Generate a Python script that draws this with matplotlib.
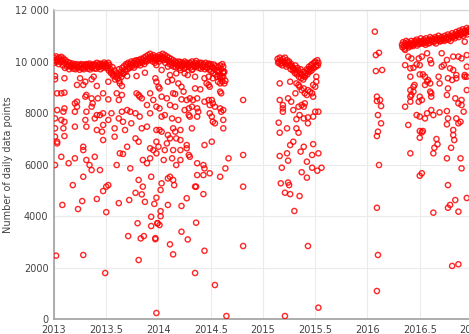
import matplotlib
matplotlib.use("Agg")
import matplotlib.pyplot as plt

# ---------------- data (year, daily data points) ----------------
band_2013_y = [10150, 10050, 10200, 10100, 10000, 10150, 10080, 10180, 10050, 10120,
               9950, 10050, 9900, 9980, 9850, 9950, 9880, 9820, 9920, 9850,
               9800, 9900, 9850, 9780, 9880, 9820, 9900, 9850, 9760, 9880,
               9830, 9900, 9800, 9870, 9920, 9850, 9780, 9880, 9830, 9900,
               9850, 9950, 9800, 9880, 9920, 9830, 9900, 9850, 9960, 9880,
               9900, 9820, 9950, 9870, 9700, 9600, 9780, 9500, 9650, 9400,
               9550, 9350, 9700, 9480, 9600, 9750, 9520, 9820, 9680, 9900,
               9850, 9950, 9800, 9900, 10000, 9880, 9950, 10020, 9900, 10050,
               9980, 10050, 9950, 10100, 10000, 10080, 10150, 10020, 10200, 10100,
               10250, 10150, 10300, 10200, 10100, 10250, 10150, 10050, 10200, 10100,
               10150, 10250, 10100, 10200, 10300, 10150, 10250, 10100, 10200, 10050,
               10150, 10000, 10100, 9950, 10050, 9900, 10000, 9950, 9880, 10000,
               9900, 9980, 9850, 9950, 9900, 10000, 9870, 9950, 9900, 9850,
               9950, 9880, 10000, 9900, 9850, 9950, 10020, 9900, 9850, 9950,
               9880, 9950, 9800, 9900, 9850, 9950, 9780, 9880, 9920, 9850,
               9900, 9800, 9750, 9880, 9700, 9820, 9650, 9780, 9600, 9850,
               9700, 9900, 9550]
band_2013_x = [2013.00, 2013.01, 2013.02, 2013.03, 2013.04, 2013.05, 2013.06, 2013.07, 2013.08, 2013.09,
               2013.10, 2013.11, 2013.12, 2013.13, 2013.14, 2013.15, 2013.16, 2013.17, 2013.18, 2013.19,
               2013.20, 2013.21, 2013.22, 2013.23, 2013.24, 2013.25, 2013.26, 2013.27, 2013.28, 2013.29,
               2013.30, 2013.31, 2013.32, 2013.33, 2013.34, 2013.35, 2013.36, 2013.37, 2013.38, 2013.39,
               2013.40, 2013.41, 2013.42, 2013.43, 2013.44, 2013.45, 2013.46, 2013.47, 2013.48, 2013.49,
               2013.50, 2013.51, 2013.52, 2013.53, 2013.54, 2013.55, 2013.56, 2013.57, 2013.58, 2013.59,
               2013.60, 2013.61, 2013.62, 2013.63, 2013.64, 2013.65, 2013.66, 2013.67, 2013.68, 2013.69,
               2013.70, 2013.71, 2013.72, 2013.73, 2013.74, 2013.75, 2013.76, 2013.77, 2013.78, 2013.79,
               2013.80, 2013.81, 2013.82, 2013.83, 2013.84, 2013.85, 2013.86, 2013.87, 2013.88, 2013.89,
               2013.90, 2013.91, 2013.92, 2013.93, 2013.94, 2013.95, 2013.96, 2013.97, 2013.98, 2013.99,
               2014.00, 2014.01, 2014.02, 2014.03, 2014.04, 2014.05, 2014.06, 2014.07, 2014.08, 2014.09,
               2014.10, 2014.11, 2014.12, 2014.13, 2014.14, 2014.15, 2014.16, 2014.17, 2014.18, 2014.19,
               2014.20, 2014.21, 2014.22, 2014.23, 2014.24, 2014.25, 2014.26, 2014.27, 2014.28, 2014.29,
               2014.30, 2014.31, 2014.32, 2014.33, 2014.34, 2014.35, 2014.36, 2014.37, 2014.38, 2014.39,
               2014.40, 2014.41, 2014.42, 2014.43, 2014.44, 2014.45, 2014.46, 2014.47, 2014.48, 2014.49,
               2014.50, 2014.51, 2014.52, 2014.53, 2014.54, 2014.55, 2014.56, 2014.57, 2014.58, 2014.59,
               2014.60, 2014.61, 2014.62]

# second (lower) row of the thick upper band, 2013-2014
band_2013b_x = [2013.005, 2013.025, 2013.045, 2013.065, 2013.085, 2013.105, 2013.125, 2013.145, 2013.165, 2013.185,
                2013.205, 2013.225, 2013.245, 2013.265, 2013.285, 2013.305, 2013.325, 2013.345, 2013.365, 2013.385,
                2013.405, 2013.425, 2013.445, 2013.465, 2013.485, 2013.505, 2013.525, 2013.545, 2013.565, 2013.585,
                2013.605, 2013.625, 2013.645, 2013.665, 2013.685, 2013.705, 2013.725, 2013.745, 2013.765, 2013.785,
                2013.805, 2013.825, 2013.845, 2013.865, 2013.885, 2013.905, 2013.925, 2013.945, 2013.965, 2013.985,
                2014.005, 2014.025, 2014.045, 2014.065, 2014.085, 2014.105, 2014.125, 2014.145, 2014.165, 2014.185,
                2014.205, 2014.225, 2014.245, 2014.265, 2014.285, 2014.305, 2014.325, 2014.345, 2014.365, 2014.385,
                2014.405, 2014.425, 2014.445, 2014.465, 2014.485, 2014.505, 2014.525, 2014.545, 2014.565, 2014.585,
                2014.605]
band_2013b_y = [9950, 10000, 9900, 9980, 9850, 9750, 9800, 9700, 9780, 9720,
                9700, 9760, 9680, 9740, 9700, 9780, 9720, 9690, 9760, 9730,
                9720, 9780, 9700, 9760, 9800, 9740, 9650, 9550, 9450, 9300,
                9450, 9250, 9400, 9550, 9600, 9700, 9750, 9800, 9760, 9850,
                9900, 9850, 9950, 9900, 10000, 10050, 10100, 10000, 9950, 10050,
                10000, 10100, 10050, 9950, 10050, 9900, 9850, 9800, 9780, 9820,
                9750, 9800, 9720, 9780, 9800, 9760, 9700, 9780, 9820, 9750,
                9720, 9780, 9700, 9750, 9680, 9620, 9550, 9500, 9600, 9450,
                9400]

band_2015_x = [2015.14, 2015.15, 2015.16, 2015.17, 2015.18, 2015.19, 2015.20, 2015.21, 2015.22, 2015.23,
               2015.24, 2015.25, 2015.26, 2015.27, 2015.28, 2015.29, 2015.30, 2015.31, 2015.32, 2015.33,
               2015.34, 2015.35, 2015.36, 2015.37, 2015.38, 2015.39, 2015.40, 2015.41, 2015.42, 2015.43,
               2015.44, 2015.45, 2015.46, 2015.47, 2015.48, 2015.49, 2015.50, 2015.51, 2015.52, 2015.53]
band_2015_y = [10100, 10000, 10150, 10050, 9950, 10100, 10000, 10150, 9900, 10050,
               9950, 10000, 9850, 9900, 9800, 9750, 9700, 9850, 9600, 9750,
               9650, 9550, 9700, 9500, 9450, 9600, 9400, 9550, 9700, 9650,
               9800, 9700, 9850, 9900, 9750, 9950, 10000, 9850, 10050, 9950]
band_2015b_x = [2015.145, 2015.165, 2015.185, 2015.205, 2015.225, 2015.245, 2015.265, 2015.285, 2015.305, 2015.325,
                2015.345, 2015.365, 2015.385, 2015.405, 2015.425, 2015.445, 2015.465, 2015.485, 2015.505, 2015.525]
band_2015b_y = [9950, 9900, 9850, 9950, 9800, 9850, 9700, 9650, 9550, 9500,
                9400, 9350, 9300, 9450, 9500, 9600, 9650, 9750, 9800, 9850]

band_2016_x = [2016.33, 2016.34, 2016.35, 2016.36, 2016.37, 2016.38, 2016.39, 2016.40, 2016.41, 2016.42,
               2016.43, 2016.44, 2016.45, 2016.46, 2016.47, 2016.48, 2016.49, 2016.50, 2016.51, 2016.52,
               2016.53, 2016.54, 2016.55, 2016.56, 2016.57, 2016.58, 2016.59, 2016.60, 2016.61, 2016.62,
               2016.63, 2016.64, 2016.65, 2016.66, 2016.67, 2016.68, 2016.69, 2016.70, 2016.71, 2016.72,
               2016.73, 2016.74, 2016.75, 2016.76, 2016.77, 2016.78, 2016.79, 2016.80, 2016.81, 2016.82,
               2016.83, 2016.84, 2016.85, 2016.86, 2016.87, 2016.88, 2016.89, 2016.90, 2016.91, 2016.92,
               2016.93, 2016.94, 2016.95, 2016.96, 2016.97, 2016.98, 2016.99, 2017.00]
band_2016_y = [10650, 10750, 10600, 10700, 10800, 10650, 10750, 10700, 10600, 10800,
               10700, 10650, 10800, 10750, 10850, 10700, 10800, 10750, 10900, 10700,
               10800, 10850, 10750, 10900, 10800, 10700, 10850, 10950, 10800, 10900,
               10850, 10800, 10950, 10900, 10850, 11000, 10900, 10800, 10950, 10850,
               10900, 11000, 10850, 10950, 11050, 10900, 11000, 10950, 11100, 10950,
               11050, 11000, 11150, 11050, 11100, 11200, 11050, 11150, 11250, 11100,
               11200, 11150, 11300, 11200, 11250, 11150, 11300, 11200]
band_2016b_x = [2016.335, 2016.355, 2016.375, 2016.395, 2016.415, 2016.435, 2016.455, 2016.475, 2016.495, 2016.515,
                2016.535, 2016.555, 2016.575, 2016.595, 2016.615, 2016.635, 2016.655, 2016.675, 2016.695, 2016.715,
                2016.735, 2016.755, 2016.775, 2016.795, 2016.815, 2016.835, 2016.855, 2016.875, 2016.895, 2016.915,
                2016.935, 2016.955, 2016.975, 2016.995]
band_2016b_y = [10550, 10500, 10600, 10550, 10650, 10600, 10700, 10620, 10680, 10750,
                10700, 10650, 10780, 10720, 10800, 10750, 10700, 10820, 10780, 10850,
                10800, 10900, 10850, 10800, 10950, 10900, 11000, 10950, 11050, 11000,
                11100, 11050, 11150, 11100]

scatter_2013 = [
    (2013.01, 9435), (2013.01, 9310), (2013.10, 9350), (2013.25, 9350), (2013.30, 9215),
    (2013.38, 9410), (2013.36, 9310), (2013.22, 9090), (2013.28, 9090), (2013.41, 9050),
    (2013.52, 9215), (2013.63, 9150), (2013.65, 9050), (2013.70, 9435), (2013.79, 9435),
    (2013.87, 9565), (2013.97, 9350), (2013.03, 8765), (2013.07, 8765), (2013.10, 8790),
    (2013.20, 8375), (2013.22, 8440), (2013.30, 8635), (2013.31, 8700), (2013.36, 8570),
    (2013.37, 8375), (2013.42, 8570), (2013.47, 8765), (2013.52, 8530), (2013.60, 8765),
    (2013.62, 8505), (2013.65, 8700), (2013.79, 8765), (2013.81, 8700), (2013.82, 8635),
    (2013.84, 8570), (2013.92, 8765), (2013.95, 8505), (2013.89, 8310), (2013.03, 8115),
    (2013.09, 8050), (2013.10, 8180), (2013.20, 8050), (2013.22, 8245), (2013.31, 8050),
    (2013.36, 8245), (2013.41, 7920), (2013.44, 7920), (2013.47, 7990), (2013.55, 7990),
    (2013.65, 8050), (2013.70, 8115), (2013.73, 8050), (2013.78, 7990), (2013.82, 7860),
    (2013.92, 7990), (2013.01, 7790), (2013.07, 7730), (2013.10, 7660), (2013.01, 7405),
    (2013.09, 7405), (2013.01, 7080), (2013.03, 6885), (2013.03, 6820), (2013.10, 7105),
    (2013.20, 7470), (2013.30, 7730), (2013.31, 7470), (2013.39, 7790), (2013.41, 7340),
    (2013.47, 7535), (2013.46, 7275), (2013.52, 7730), (2013.58, 7405), (2013.62, 7790),
    (2013.66, 7660), (2013.68, 7340), (2013.74, 7600), (2013.78, 7015), (2013.81, 6885),
    (2013.84, 7405), (2013.89, 7470), (2013.92, 6630), (2013.95, 6560), (2013.98, 6435),
    (2013.28, 6690), (2013.28, 6560), (2013.39, 6300), (2013.47, 6950), (2013.58, 7080),
    (2013.70, 6690), (2013.63, 6435), (2013.66, 6410), (2013.07, 6300), (2013.20, 6240),
    (2013.14, 6050), (2013.31, 6175), (2013.34, 5980), (2013.36, 5785), (2013.44, 5785),
    (2013.60, 5980), (2013.73, 5850), (2013.85, 6175), (2013.89, 6050), (2013.92, 6240),
    (2013.93, 5525), (2013.28, 5525), (2013.52, 5200), (2013.81, 5400), (2013.18, 5200),
    (2013.01, 5980), (2013.08, 4430), (2013.23, 4270), (2013.27, 4580), (2013.41, 4660),
    (2013.47, 4970), (2013.50, 5140), (2013.50, 4150), (2013.62, 4500), (2013.72, 4620),
    (2013.78, 4900), (2013.84, 4840), (2013.85, 5140), (2013.87, 4550), (2013.96, 4470),
    (2013.98, 4710), (2013.93, 3970), (2013.80, 3720), (2013.71, 3220), (2013.83, 3130),
    (2013.86, 3220), (2013.93, 3610), (2013.97, 3100), (2013.99, 3720), (2013.02, 2460),
    (2013.28, 2485), (2013.49, 1786), (2013.81, 2290), (2013.98, 233),
    (2014.62, 9800), (2014.63, 9600), (2014.62, 9400), (2014.64, 9250), (2014.63, 9150),
]

scatter_2014 = [
    (2013.98, 9860), (2014.03, 9670), (2014.09, 9800), (2014.11, 9475), (2014.17, 9540),
    (2014.21, 9670), (2014.25, 9540), (2014.28, 9475), (2014.32, 9670), (2014.35, 9410),
    (2014.44, 9350), (2014.48, 9410), (2014.52, 9350), (2014.56, 9410), (2014.57, 9215),
    (2014.59, 9350), (2014.62, 9610), (2014.61, 9220), (2014.59, 9150), (2013.98, 9215),
    (2014.00, 9020), (2014.01, 8955), (2014.09, 9215), (2014.13, 9280), (2014.19, 9150),
    (2014.22, 9020), (2014.24, 8830), (2014.35, 8955), (2014.40, 8920), (2014.46, 9150),
    (2014.48, 9090), (2014.49, 9020), (2014.59, 8830), (2014.60, 8765), (2014.03, 8635),
    (2014.08, 8570), (2014.14, 8765), (2014.16, 8740), (2014.22, 8530), (2014.27, 8505),
    (2014.30, 8570), (2014.33, 8505), (2014.37, 8570), (2014.44, 8440), (2014.48, 8505),
    (2014.51, 8505), (2013.98, 8245), (2014.01, 8180), (2014.11, 8310), (2014.16, 8245),
    (2014.25, 8115), (2014.29, 8180), (2014.32, 8245), (2014.37, 8180), (2014.38, 8050),
    (2014.49, 8310), (2014.52, 8375), (2014.54, 8245), (2014.59, 8180), (2014.60, 8050),
    (2014.62, 8115), (2014.03, 7860), (2014.06, 7920), (2014.13, 7790), (2014.19, 7730),
    (2014.29, 7920), (2014.30, 7860), (2014.37, 7860), (2014.49, 7990), (2014.51, 7860),
    (2014.52, 7660), (2014.54, 7600), (2014.62, 7730), (2014.62, 7405), (2013.98, 7340),
    (2014.01, 7340), (2014.03, 7275), (2014.14, 7405), (2014.16, 7275), (2014.21, 7340),
    (2014.32, 7405), (2014.09, 7145), (2014.11, 7015), (2014.17, 7015), (2014.21, 6950),
    (2013.98, 6885), (2014.00, 6690), (2014.08, 6820), (2014.27, 6755), (2014.27, 6630),
    (2014.44, 6755), (2014.51, 6885), (2014.06, 6560), (2014.14, 6560), (2014.21, 6560),
    (2014.29, 6370), (2014.30, 6300), (2014.05, 6175), (2014.13, 6240), (2014.21, 6175),
    (2014.67, 6240), (2014.17, 5980), (2014.37, 6050), (2014.43, 5980), (2014.44, 5850),
    (2014.64, 5850), (2014.11, 5525), (2014.09, 5460), (2014.14, 5400), (2014.37, 5590),
    (2014.43, 5590), (2014.49, 5660), (2014.59, 5525), (2014.03, 5270), (2014.35, 5140),
    (2014.02, 5010), (2014.15, 5200), (2014.36, 5140), (2014.09, 4430), (2014.22, 4390),
    (2014.27, 4690), (2014.43, 4850), (2014.02, 4190), (2014.02, 3990), (2013.99, 3720),
    (2014.01, 3650), (2014.36, 3740), (2014.22, 3390), (2014.28, 3090), (2014.11, 2900),
    (2014.14, 2510), (2014.44, 2650), (2013.97, 3140), (2014.35, 1786), (2014.54, 1320),
    (2014.65, 116),
    (2014.81, 8505), (2014.81, 6370), (2014.81, 5140), (2014.81, 2835),
]

scatter_2015 = [
    (2015.16, 9150), (2015.26, 9215), (2015.32, 9150), (2015.34, 9090), (2015.35, 9020),
    (2015.37, 8890), (2015.39, 8955), (2015.43, 8890), (2015.45, 8830), (2015.47, 8765),
    (2015.51, 9410), (2015.51, 9215), (2015.50, 9020), (2015.48, 9090), (2015.31, 8765),
    (2015.40, 8765), (2015.42, 8700), (2015.48, 8635), (2015.16, 8505), (2015.24, 8570),
    (2015.27, 8440), (2015.19, 8310), (2015.19, 8180), (2015.34, 8245), (2015.37, 8310),
    (2015.40, 8375), (2015.39, 8245), (2015.29, 8115), (2015.19, 8050), (2015.50, 8050),
    (2015.53, 8050), (2015.48, 7860), (2015.43, 7830), (2015.35, 7920), (2015.32, 7760),
    (2015.39, 7790), (2015.15, 7625), (2015.43, 7600), (2015.23, 7405), (2015.16, 7235),
    (2015.32, 7405), (2015.34, 7235), (2015.29, 6885), (2015.26, 6755), (2015.39, 6690),
    (2015.48, 6790), (2015.36, 6500), (2015.23, 6435), (2015.16, 6330), (2015.53, 6435),
    (2015.47, 6370), (2015.24, 6150), (2015.42, 6110), (2015.18, 5875), (2015.37, 5700),
    (2015.47, 5875), (2015.52, 5760), (2015.56, 5875), (2015.42, 5490), (2015.17, 5270),
    (2015.24, 5300), (2015.25, 5200), (2015.21, 4905), (2015.26, 4850), (2015.35, 4775),
    (2015.30, 4195), (2015.43, 2835), (2015.53, 440), (2015.21, 116),
]

scatter_2016 = [
    (2016.07, 11160), (2016.08, 10250), (2016.11, 10340), (2016.08, 9630), (2016.14, 9670),
    (2016.09, 8635), (2016.12, 8505), (2016.09, 8465), (2016.13, 8270), (2016.10, 7920),
    (2016.13, 7600), (2016.10, 7275), (2016.09, 7105), (2016.11, 5980), (2016.09, 4320),
    (2016.10, 2485), (2016.09, 1087),
    (2016.36, 10450), (2016.39, 10190), (2016.42, 10120), (2016.36, 9860), (2016.41, 9735),
    (2016.44, 9760), (2016.47, 9890), (2016.50, 9860), (2016.49, 10120), (2016.52, 10190),
    (2016.57, 10320), (2016.60, 10060), (2016.61, 9930), (2016.71, 10320), (2016.76, 10060),
    (2016.82, 10190), (2016.87, 10190), (2016.90, 10120), (2016.71, 9800), (2016.73, 9860),
    (2016.79, 9735), (2016.82, 9670), (2016.85, 9475), (2016.93, 9475), (2016.95, 9410),
    (2016.41, 9410), (2016.50, 9500), (2016.53, 9500), (2016.55, 9410), (2016.58, 9280),
    (2016.60, 9150), (2016.68, 9410), (2016.69, 9150), (2016.77, 9350), (2016.81, 9280),
    (2016.85, 9350), (2016.44, 9020), (2016.41, 8890), (2016.42, 8700), (2016.41, 8635),
    (2016.44, 8830), (2016.45, 9090), (2016.50, 8635), (2016.52, 8505), (2016.55, 9090),
    (2016.57, 9215), (2016.60, 8830), (2016.61, 8635), (2016.61, 8765), (2016.76, 8700),
    (2016.77, 8955), (2016.84, 8570), (2016.87, 8375), (2016.90, 8310), (2016.36, 8245),
    (2016.49, 8440), (2016.41, 8440), (2016.47, 7920), (2016.50, 7860), (2016.55, 7790),
    (2016.57, 7990), (2016.61, 8115), (2016.63, 7920), (2016.69, 8025), (2016.76, 8075),
    (2016.77, 7790), (2016.76, 7560), (2016.85, 7790), (2016.87, 7600), (2016.89, 7660),
    (2016.39, 7535), (2016.50, 7300), (2016.52, 7250), (2016.53, 7300), (2016.50, 7040),
    (2016.66, 6990), (2016.67, 6785), (2016.64, 6650), (2016.63, 6435), (2016.82, 7340),
    (2016.82, 7145), (2016.83, 6950), (2016.80, 6650), (2016.76, 6240), (2016.89, 6240),
    (2016.90, 5850), (2016.41, 6435), (2016.52, 5660), (2016.50, 5565), (2016.77, 5200),
    (2016.77, 4320), (2016.79, 4430), (2016.84, 4620), (2016.87, 4170), (2016.63, 4130),
    (2016.81, 2060), (2016.87, 2125),
    (2016.93, 10770), (2016.95, 10250), (2016.95, 9800), (2016.93, 9410), (2016.95, 8890),
    (2016.90, 8505), (2016.92, 8050), (2016.95, 4700),
]

y_ticks = [0, 2000, 4000, 6000, 8000, 10000, 12000]
y_tick_labels = ["0", "2000", "4000", "6000", "8000", "10 000", "12 000"]
x_ticks = [2013, 2013.5, 2014, 2014.5, 2015, 2015.5, 2016, 2016.5, 2017]
x_tick_labels = ["2013", "2013.5", "2014", "2014.5", "2015", "2015.5", "2016", "2016.5", "2017"]

# ---------------- plot ----------------
xs = band_2013_x + band_2013b_x + band_2015_x + band_2015b_x + band_2016_x + band_2016b_x
ys = band_2013_y + band_2013b_y + band_2015_y + band_2015b_y + band_2016_y + band_2016b_y
for pts in (scatter_2013, scatter_2014, scatter_2015, scatter_2016):
    xs += [p[0] for p in pts]
    ys += [p[1] for p in pts]

fig = plt.figure(figsize=(4.69, 3.34), dpi=100)
ax = fig.add_axes([0.1151, 0.0449, 0.8913, 0.9251])

ax.scatter(xs, ys, s=14, facecolors="none", edgecolors="#ff0000",
           linewidths=1.0, alpha=0.85, zorder=3)

ax.set_xlim(2013, 2017)
ax.set_ylim(0, 12000)
ax.set_xticks(x_ticks)
ax.set_xticklabels(x_tick_labels)
ax.set_yticks(y_ticks)
ax.set_yticklabels(y_tick_labels)
ax.tick_params(length=0, labelsize=7, colors="#444444", pad=4)
ax.grid(True, color="#ebebeb", linewidth=0.8, zorder=0)
ax.set_axisbelow(True)
for side in ("left", "bottom"):
    ax.spines[side].set_color("#a0a0a0")
    ax.spines[side].set_linewidth(1.2)
ax.spines["top"].set_color("#d8d8d8")
ax.spines["top"].set_linewidth(1.0)
ax.spines["right"].set_visible(False)

ax.set_ylabel("Number of daily data points", fontsize=7, color="#444444")
ax.yaxis.set_label_coords(-0.098, 0.5)

fig.savefig("out.png", dpi=100)
